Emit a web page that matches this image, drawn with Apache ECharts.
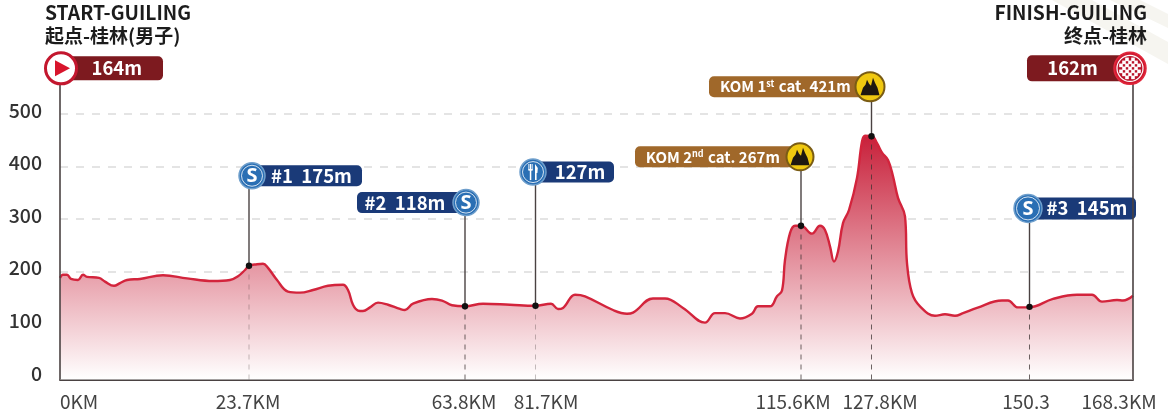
<!DOCTYPE html>
<html><head><meta charset="utf-8">
<style>html,body{margin:0;padding:0;background:#fff}#c{width:1168px;height:417px}</style>
<script src="https://cdn.jsdelivr.net/npm/echarts@6/dist/echarts.min.js"></script>
</head><body><div id="c"></div>
<script>
// Distance along the drawn axis (the published axis is not to scale) and elevation in metres on the y scale
var profilePos = [0,3,7,11,18,23,27,39,45,54,60,67,80,103,127,153,170,178,185,189,197,203,208,217,228,240,253,268,283,288,293,298,303,310,318,328,340,345,353,372,382,392,405,423,450,475,491,498,503,515,525,553,567,573,593,605,623,645,655,665,680,692,698,710,717,722,725,730,735,741,752,760,765,770,774,778,783,789,797,802,805,812,817,822,828,833,838,845,847,852,860,875,885,895,903,917,942,948,958,969,993,1017,1032,1042,1057,1063,1073];
var profileElev = [188,194,194,186,184,194,190,188,181,173,178,184,186,193,187,182,184,191,203,211,214,215,207,184,162,160,165,173,175,165,137,126,125,132,141,137,129,127,139,148,145,136,134,139,137,135,139,129,131,156,153,127,120,122,149,149,131,103,121,121,111,120,134,134,153,164,222,273,287,287,272,287,279,248,219,238,292,317,378,447,458,457,444,426,412,381,340,305,216,159,134,116,119,116,121,131,145,145,132,132,148,156,156,143,146,145,154];
var yTicks = [0,100,200,300,400,500];
var xLabelAnchors = [19,188,404,486,733,820,966,1059];
var xLabels = ['0KM','23.7KM','63.8KM','81.7KM','115.6KM','127.8KM','150.3','168.3KM'];
var pinPos  = [0,189,405,475.5,741,811.5,969.5,1073];
var pinElev = [0,211,134,135,287,457,133,0];
var pinTop  = [586,382,331,389,418,551,320,586];
var pinKind = ['start','s','s','food','kom','kom','s','finish'];
var pinText = ['164m','#1  175m','#2  118m','127m','KOM 2|nd| cat. 267m','KOM 1|st| cat. 421m','#3  145m','162m'];
var pinStyle = [
 {dx:1, r:15.5, l:0, w:102, h:12, fill:'#7d1a1f', tx:-3, dash:.75},
 {dx:3, r:13, l:0, w:110, h:10.5, fill:'#1a3a78', tx:-2, dash:.3},
 {dx:1, r:13, l:-109, w:109, h:10.5, fill:'#1a3a78', tx:0, dash:.75},
 {dx:-2.5, r:13, l:0, w:81, h:10.5, fill:'#1a3a78', tx:0, dash:.3},
 {dx:-1, r:13.5, l:-165, w:165, h:10.5, fill:'#a0682a', tx:2, dash:.75},
 {dx:-1.5, r:14.5, l:-161, w:161, h:10.5, fill:'#a0682a', tx:3, dash:.75},
 {dx:-1.5, r:14, l:0, w:108, h:11, fill:'#1a3a78', tx:-2, dash:.75},
 {dx:-3, r:16, l:-103, w:103, h:13, fill:'#7d1a1f', tx:2, dash:.75}
];

function badge(kind, r){
  var c = [];
  if (kind==='start'){
    c.push({type:'circle',shape:{cx:0,cy:0,r:r},style:{fill:'#fff',stroke:'#c3172e',lineWidth:3}});
    c.push({type:'polygon',shape:{points:[[-6,-8],[-6,8],[9,0]]},style:{fill:'#d8152c'}});
  } else if (kind==='finish'){
    c.push({type:'circle',shape:{cx:0,cy:0,r:r},style:{fill:'#d01a30',stroke:'#e2283c',lineWidth:1.5}});
    c.push({type:'circle',shape:{cx:0,cy:0,r:r-3},style:{fill:'#b8142a',stroke:'#fff',lineWidth:1.2}});
    for (var i=-3;i<=3;i++) for (var j=-3;j<=3;j++){
      if ((i+j+6)%2===0 && i*i+j*j<=13) c.push({type:'rect',shape:{x:i*3-1.8,y:j*3-1.8,width:3.6,height:3.6},style:{fill:'#fff'}});
    }
  } else if (kind==='s' || kind==='food'){
    c.push({type:'circle',shape:{cx:0,cy:0,r:r},style:{fill:'#2a6fb4',stroke:'#6f9fcc',lineWidth:1.5}});
    c.push({type:'circle',shape:{cx:0,cy:0,r:r-2.5},style:{fill:'#2a6fb4',stroke:'#fff',lineWidth:0.8}});
    if (kind==='s'){
      c.push({type:'text',style:{text:'S',x:0,y:0.5,align:'center',verticalAlign:'middle',fill:'#fff',font:'700 20px "Noto Sans"'}});
    } else {
      c.push({type:'rect',shape:{x:-4.6,y:-8,width:1,height:6},style:{fill:'#fff'}});
      c.push({type:'rect',shape:{x:-3,y:-8,width:1,height:6},style:{fill:'#fff'}});
      c.push({type:'rect',shape:{x:-1.4,y:-8,width:1,height:6},style:{fill:'#fff'}});
      c.push({type:'rect',shape:{x:-4.6,y:-3,width:4.2,height:1.6},style:{fill:'#fff'}});
      c.push({type:'rect',shape:{x:-3.2,y:-2,width:1.5,height:10},style:{fill:'#fff'}});
      c.push({type:'polygon',shape:{points:[[2,-8],[4.8,-4],[4.4,1],[3.6,1],[3.6,8],[2,8]]},style:{fill:'#fff'}});
    }
  } else {
    c.push({type:'circle',shape:{cx:0,cy:0,r:r},style:{fill:'#f0c810',stroke:'#7a5c14',lineWidth:2}});
    c.push({type:'polygon',shape:{points:[[-9.5,8.5],[-7,1],[-4.5,-2],[-3,-7],[-1,-3],[1,-1],[3,-9],[5,-4],[7.5,1],[9.5,8.5]]},style:{fill:'#1e1710'}});
  }
  return c;
}

function renderPin(params, api){
  var i = params.dataIndex, s = pinStyle[i], kind = pinKind[i];
  var x = api.coord([api.value(0),0])[0];
  var base = api.coord([0,-5])[1];
  var py = api.coord([0,api.value(1)])[1];
  var ty = api.coord([0,api.value(2)])[1];
  var els = [];
  var ends = kind==='start'||kind==='finish';
  if (!ends) els.push({type:'line',shape:{x1:x,y1:base,x2:x,y2:py},style:{stroke:'rgba(60,50,50,'+s.dash+')',lineWidth:1,lineDash:[5,5]}});
  els.push({type:'line',shape:{x1:x,y1:ends?base:py,x2:x,y2:ty},style:{stroke:'#4a4242',lineWidth:ends?1.6:1.4}});
  if (!ends) els.push({type:'circle',shape:{cx:x,cy:py,r:3.2},style:{fill:'#111'}});
  var cx = x+s.dx;
  var lx = cx+s.l;
  els.push({type:'rect',shape:{x:lx,y:ty-s.h,width:s.w,height:s.h*2,r:5},style:{fill:s.fill}});
  var free0 = s.l<0 ? lx : cx+s.r, free1 = s.l<0 ? cx-s.r : lx+s.w;
  var parts = pinText[i].split('|');
  var isKom = kind==='kom';
  var txt = isKom ? '{a|'+parts[0]+'}{b|'+parts[1]+'}{a|'+parts[2]+'}' : parts[0];
  var ts = {text:txt,x:(free0+free1)/2+s.tx,y:ty,align:'center',verticalAlign:'middle',fill:'#fff'};
  if (isKom){
    ts.rich = {a:{fill:'#fff',font:'700 15px "Noto Sans CJK SC"',verticalAlign:'middle'},b:{fill:'#fff',font:'700 9px "Noto Sans CJK SC"',padding:[0,1,7,0]}};
  } else {
    ts.font = '700 18.5px "Noto Sans CJK SC"';
  }
  els.push({type:'text',style:ts});
  els.push({type:'group',x:cx,y:ty,children:badge(kind,s.r)});
  return {type:'group',children:els};
}

var chart = echarts.init(document.getElementById('c'),null,{renderer:'canvas'});
chart.setOption({
  animation:false,
  backgroundColor:'#fff',
  grid:{left:60,right:35,top:61,bottom:37.5,containLabel:false},
  xAxis:{type:'value',min:0,max:1073,
    axisLine:{show:true,onZero:false,lineStyle:{color:'#4a4242',width:2}},
    axisTick:{show:false},splitLine:{show:false},
    axisLabel:{customValues:xLabelAnchors,showMinLabel:true,showMaxLabel:true,margin:13,hideOverlap:false,color:'#444',fontSize:19,fontFamily:'"Noto Sans CJK SC"',
      formatter:function(v){var k=xLabelAnchors.indexOf(v);return k<0?'':xLabels[k];}}
  },
  yAxis:{type:'value',min:-5,max:600,
    axisLine:{show:false},
    axisTick:{show:false,customValues:yTicks},
    splitLine:{show:true,lineStyle:{color:'#dcdcdc',width:1.5,type:[8,8]}},
    axisLabel:{customValues:yTicks,margin:18,color:'#333',fontSize:19.5,fontWeight:500,verticalAlign:'bottom',lineHeight:7,fontFamily:'"Noto Sans CJK SC"'}
  },
  series:[
    {type:'line',name:'Elevation',data:profilePos.map(function(p,i){return [p,profileElev[i]];}),
      showSymbol:false,smooth:0.4,
      lineStyle:{color:'#d3243c',width:2.4},
      areaStyle:{opacity:1,origin:'start',color:{type:'linear',x:0,y:0,x2:0,y2:1,colorStops:[{offset:0,color:'#c8203a'},{offset:1,color:'#ffffff'}]}},
      z:2},
    {type:'custom',name:'Pins',clip:false,z:5,renderItem:renderPin,
      encode:{x:0,y:1},
      data:pinPos.map(function(p,i){return [p,pinElev[i],pinTop[i]];})}
  ],
  graphic:[
    {type:'polygon',silent:true,z:-1,shape:{points:[[1052,0],[1092,0],[1168,42],[1168,64]]},style:{fill:'#f6f5f0'}},
    {type:'polygon',silent:true,z:-1,shape:{points:[[1110,0],[1140,0],[1168,14],[1168,28]]},style:{fill:'#f6f5f0'}},
    {type:'text',left:45,top:3,style:{text:'START-GUILING',fill:'#1c1c1c',font:'700 19.3px "Noto Sans CJK SC"'}},
    {type:'text',left:45,top:26,style:{text:'起点-桂林(男子)',fill:'#1c1c1c',font:'700 19px "Noto Sans CJK SC"'}},
    {type:'text',right:21,top:3,style:{text:'FINISH-GUILING',fill:'#1c1c1c',font:'700 19.3px "Noto Sans CJK SC"'}},
    {type:'text',right:21,top:26,style:{text:'终点-桂林',fill:'#1c1c1c',font:'700 19px "Noto Sans CJK SC"'}}
  ]
});
</script></body></html>
